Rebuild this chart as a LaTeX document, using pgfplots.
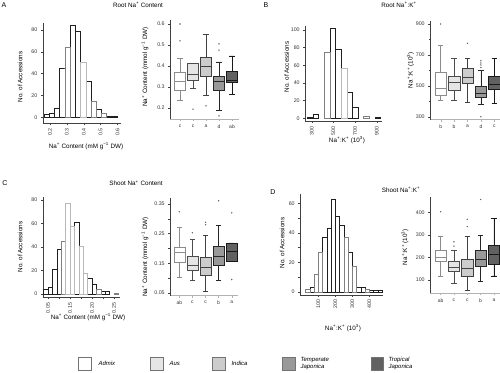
\documentclass[border=0pt]{standalone}
\usepackage{fontspec}
\setmainfont{Liberation Sans}
\usepackage{pgfplots}
\pgfplotsset{compat=1.18}
\usepgfplotslibrary{statistics}
\definecolor{eB}{gray}{0.12}
\definecolor{eG}{gray}{0.5}
\definecolor{eL}{gray}{0.72}
\definecolor{cAdm}{gray}{1}
\definecolor{cAus}{gray}{0.9}
\definecolor{cInd}{gray}{0.8}
\definecolor{cTem}{gray}{0.6}
\definecolor{cTro}{gray}{0.38}
\pgfplotsset{
 base/.style={scale only axis, anchor=south west, clip=false,
   axis x line*=bottom, axis y line*=left,
   axis line style={-, black!75, line width=0.4pt},
   tick align=outside, major tick length=1.8pt, minor tick length=1.2pt,
   tick style={black!75, line width=0.4pt},
   ticklabel style={font=\fontsize{5.3}{6}\selectfont, text=black!80},
   /pgf/number format/assume math mode=true},
 hist/.style={base, xticklabel style={rotate=90, anchor=east}, xtick pos=bottom, ytick pos=left},
 hb/.style={ybar, bar shift=0pt, bar width=#1, fill=white, line width=0.45pt},
 bxa/.style={base, xmin=0.2, xtick={1,2,3,4,5}, xtick pos=bottom, ytick pos=left,
   x axis line style={black!30, line width=1.1pt}, xtick style={black!30},
   xticklabel style={font=\fontsize{5}{6}\selectfont},
   boxplot/draw direction=y, boxplot/box extend=0.85, boxplot/whisker extend=0.4},
 pAdm/.style={draw=black!45, fill=cAdm, line width=0.45pt, mark=*, mark size=0.45pt, mark options={solid, fill=black!60, draw=black!60}},
 pAus/.style={draw=black!70, fill=cAus, line width=0.45pt, mark=*, mark size=0.45pt, mark options={solid, fill=black!60, draw=black!60}},
 pInd/.style={draw=black!75, fill=cInd, line width=0.45pt, mark=*, mark size=0.45pt, mark options={solid, fill=black!60, draw=black!60}},
 pTem/.style={draw=black!85, fill=cTem, line width=0.45pt, mark=*, mark size=0.45pt, mark options={solid, fill=black!60, draw=black!60}},
 pTro/.style={draw=black!90, fill=cTro, line width=0.45pt, mark=*, mark size=0.45pt, mark options={solid, fill=black!60, draw=black!60}},
}
\newcommand{\lab}{\fontsize{6.3}{7}\selectfont}
\newcommand{\ttl}{\fontsize{6.3}{7}\selectfont}
\begin{document}
\begin{tikzpicture}
\path[use as bounding box] (0pt,0pt) rectangle (500pt,372pt);

% ================= A histogram
\begin{axis}[hist, at={(42.7pt,249.2pt)}, width=77.8pt, height=99.4pt,
  xmin=0.157, xmax=0.618, ymin=-5, ymax=86,
  xtick={0.2,0.3,0.4,0.5,0.6}, xticklabels={0.2,0.3,0.4,0.5,0.6}, ytick={0,20,40,60,80}]
\addplot[hb=0.031, draw=eB] coordinates {(0.1795,3) (0.2105,4) (0.2415,8) (0.2725,45) (0.3345,84) (0.3655,79) (0.4275,33) (0.4895,7) (0.5515,1) (0.5825,1)};
\addplot[hb=0.031, draw=eG] coordinates {(0.3035,64) (0.4585,15) (0.5205,4)};
\addplot[hb=0.031, draw=eL] coordinates {(0.3965,50)};
\end{axis}

% ================= A boxplot
\begin{axis}[bxa, at={(170pt,252.7pt)}, width=68.5pt, height=99.5pt,
  xmin=0.23, xmax=5.5, ymin=0.146, ymax=0.62,
  ytick={0.2,0.3,0.4,0.5,0.6}, yticklabels={0.2,0.3,0.4,0.5,0.6},
  xticklabels={c,c,a,d,ab}]
\addplot[pAdm, boxplot prepared={draw position=1, lower whisker=0.235, lower quartile=0.285, median=0.325, upper quartile=0.368, upper whisker=0.437}] table[row sep=\\, y index=0] {v\\0.52\\0.60\\};
\addplot[pAus, boxplot prepared={draw position=2, lower whisker=0.294, lower quartile=0.333, median=0.362, upper quartile=0.413, upper whisker=0.413}] table[row sep=\\, y index=0] {v\\0.194\\};
\addplot[pInd, boxplot prepared={draw position=3, lower whisker=0.26, lower quartile=0.352, median=0.397, upper quartile=0.44, upper whisker=0.552}] table[row sep=\\, y index=0] {v\\0.21\\};
\addplot[pTem, boxplot prepared={draw position=4, lower whisker=0.19, lower quartile=0.283, median=0.325, upper quartile=0.352, upper whisker=0.42}] table[row sep=\\, y index=0] {v\\0.476\\0.505\\0.162\\};
\addplot[pTro, boxplot prepared={draw position=5, lower whisker=0.265, lower quartile=0.321, median=0.33, upper quartile=0.376, upper whisker=0.448}] coordinates {};
\end{axis}

% ================= B histogram
\begin{axis}[hist, at={(305pt,251pt)}, width=76.6pt, height=95.4pt,
  xmin=238, xmax=945, ymin=-3, ymax=105,
  xtick={300,500,700,900}, ytick={0,20,40,60,80,100}]
\addplot[hb=52, draw=eB] coordinates {(286,1) (338,5) (494,102) (546,78) (650,30) (702,13) (910,1)};
\addplot[hb=52, draw=eG] coordinates {(442,75) (806,2)};
\addplot[hb=52, draw=eL] coordinates {(598,57)};
\end{axis}

% ================= B boxplot
\begin{axis}[bxa, at={(430pt,252.2pt)}, width=69.9pt, height=98.9pt,
  xmin=0.2, xmax=5.42, ymin=280, ymax=920,
  ytick={300,500,700,900}, minor ytick={400,600,800},
  xticklabels={b,b,a,d,c}]
\addplot[pAdm, boxplot prepared={draw position=1, lower whisker=408, lower quartile=440, median=484, upper quartile=585, upper whisker=764}] table[row sep=\\, y index=0] {v\\900\\};
\addplot[pAus, boxplot prepared={draw position=2, lower whisker=408, lower quartile=473, median=522, upper quartile=559, upper whisker=678}] coordinates {};
\addplot[pInd, boxplot prepared={draw position=3, lower whisker=391, lower quartile=516, median=553, upper quartile=613, upper whisker=678}] table[row sep=\\, y index=0] {v\\775\\};
\addplot[pTem, boxplot prepared={draw position=4, lower whisker=382, lower quartile=425, median=451, upper quartile=499, upper whisker=598}] table[row sep=\\, y index=0] {v\\618\\635\\648\\662\\300\\};
\addplot[pTro, boxplot prepared={draw position=5, lower whisker=387, lower quartile=477, median=512, upper quartile=563, upper whisker=678}] coordinates {};
\end{axis}

% ================= C histogram
\begin{axis}[hist, at={(42.7pt,74.5pt)}, width=76.8pt, height=101pt,
  xmin=0.026, xmax=0.375, ymin=-3, ymax=83,
  xtick={0.05,0.10,0.15,0.20,0.25,0.30,0.35}, xticklabels={0.05,,0.15,,0.20,,0.25},
  ytick={0,20,40,60,80}]
\addplot[hb=0.02, draw=eB] coordinates {(0.04,4) (0.06,6) (0.08,21) (0.10,38) (0.18,61) (0.24,13) (0.26,8) (0.30,2) (0.32,2)};
\addplot[hb=0.02, draw=eG] coordinates {(0.12,45) (0.28,4) (0.36,1)};
\addplot[hb=0.02, draw=eL] coordinates {(0.14,77) (0.16,58) (0.20,41) (0.22,18)};
\end{axis}

% ================= C boxplot
\begin{axis}[bxa, at={(170pt,76.2pt)}, width=68.3pt, height=97.7pt,
  xmin=0.29, xmax=5.5, ymin=0.04, ymax=0.37,
  ytick={0.05,0.10,0.15,0.20,0.25,0.30,0.35}, yticklabels={0.05,,0.15,,0.25,,0.35},
  xticklabels={ab,c,c,b,a}]
\addplot[pAdm, boxplot prepared={draw position=1, lower whisker=0.102, lower quartile=0.155, median=0.186, upper quartile=0.204, upper whisker=0.271}] table[row sep=\\, y index=0] {v\\0.324\\};
\addplot[pAus, boxplot prepared={draw position=2, lower whisker=0.091, lower quartile=0.125, median=0.144, upper quartile=0.172, upper whisker=0.231}] table[row sep=\\, y index=0] {v\\0.253\\};
\addplot[pInd, boxplot prepared={draw position=3, lower whisker=0.054, lower quartile=0.11, median=0.138, upper quartile=0.17, upper whisker=0.245}] table[row sep=\\, y index=0] {v\\0.28\\0.288\\};
\addplot[pTem, boxplot prepared={draw position=4, lower whisker=0.093, lower quartile=0.144, median=0.174, upper quartile=0.206, upper whisker=0.279}] table[row sep=\\, y index=0] {v\\0.361\\};
\addplot[pTro, boxplot prepared={draw position=5, lower whisker=0.157, lower quartile=0.157, median=0.189, upper quartile=0.219, upper whisker=0.219}] table[row sep=\\, y index=0] {v\\0.32\\0.095\\};
\end{axis}

% ================= D histogram
\begin{axis}[hist, at={(300pt,77.3pt)}, width=82.9pt, height=100.35pt,
  xmin=-8, xmax=480, ymin=-2, ymax=66,
  xtick={100,200,300,400}, ytick={0,10,20,30,40,50,60}, yticklabels={0,,20,,40,,60}]
\addplot[hb=25, draw=eB] coordinates {(62.5,3) (137.5,37) (162.5,43) (187.5,63) (212.5,51) (237.5,45) (287.5,27) (337.5,3) (362.5,3) (412.5,1) (437.5,1) (462.5,1)};
\addplot[hb=25, draw=eG] coordinates {(37.5,2) (87.5,12) (112.5,27) (262.5,37) (312.5,17) (387.5,2)};
\end{axis}

% ================= D boxplot
\begin{axis}[bxa, at={(430pt,78.7pt)}, width=69.5pt, height=96.3pt,
  xmin=0.2, xmax=5.42, ymin=40, ymax=470,
  ytick={100,200,300,400},
  xticklabels={ab,c,c,b,a}]
\addplot[pAdm, boxplot prepared={draw position=1, lower whisker=115, lower quartile=182, median=201, upper quartile=234, upper whisker=293}] table[row sep=\\, y index=0] {v\\404\\};
\addplot[pAus, boxplot prepared={draw position=2, lower whisker=85, lower quartile=137, median=156, upper quartile=182, upper whisker=234}] table[row sep=\\, y index=0] {v\\251\\270\\};
\addplot[pInd, boxplot prepared={draw position=3, lower whisker=52, lower quartile=118, median=152, upper quartile=192, upper whisker=293}] table[row sep=\\, y index=0] {v\\338\\370\\};
\addplot[pTem, boxplot prepared={draw position=4, lower whisker=92, lower quartile=159, median=192, upper quartile=234, upper whisker=300}] table[row sep=\\, y index=0] {v\\459\\};
\addplot[pTro, boxplot prepared={draw position=5, lower whisker=118, lower quartile=171, median=216, upper quartile=256, upper whisker=375}] coordinates {};
\end{axis}

% ================= titles, letters, labels
\node[font=\fontsize{7}{8}\selectfont] at (4pt,367pt) {A};
\node[font=\fontsize{7}{8}\selectfont] at (266pt,367pt) {B};
\node[font=\fontsize{7}{8}\selectfont] at (5pt,188.5pt) {C};
\node[font=\fontsize{7}{8}\selectfont] at (273pt,180pt) {D};
\node[font=\ttl] at (138pt,367pt) {Root Na\textsuperscript{+} Content};
\node[font=\ttl] at (399pt,367pt) {Root Na\textsuperscript{+}:K\textsuperscript{+}};
\node[font=\ttl] at (136pt,188.5pt) {Shoot Na\textsuperscript{+} Content};
\node[font=\ttl] at (401pt,182pt) {Shoot Na\textsuperscript{+}:K\textsuperscript{+}};

\node[font=\lab, rotate=90] at (20pt,295pt) {No. of Accessions};
\node[font=\lab] at (86pt,226pt) {Na\textsuperscript{+} Content (mM g\textsuperscript{−1} DW)};
\node[font=\lab, rotate=90] at (145pt,305pt) {Na\textsuperscript{+} Content (mmol g\textsuperscript{−1} DW)};
\node[font=\lab, rotate=90] at (286.5pt,305pt) {No. of Accessions};
\node[font=\lab] at (347pt,232pt) {Na\textsuperscript{+}:K\textsuperscript{+} (10\textsuperscript{3})};
\node[font=\lab, rotate=90] at (410.5pt,302pt) {Na\textsuperscript{+}:K\textsuperscript{+} (10\textsuperscript{3})};
\node[font=\lab, rotate=90] at (20pt,125pt) {No. of Accessions};
\node[font=\lab] at (88pt,55pt) {Na\textsuperscript{+} Content (mM g\textsuperscript{−1} DW)};
\node[font=\lab, rotate=90] at (145pt,115pt) {Na\textsuperscript{+} Content (mmol g\textsuperscript{−1} DW)};
\node[font=\lab, rotate=90] at (282pt,129pt) {No. of Accessions};
\node[font=\lab] at (343pt,44pt) {Na\textsuperscript{+}:K\textsuperscript{+} (10\textsuperscript{3})};
\node[font=\lab, rotate=90] at (405pt,125pt) {Na\textsuperscript{+}:K\textsuperscript{+} (10\textsuperscript{3})};

% ================= legend
\begin{scope}[line width=0.5pt]
\filldraw[draw=black!55, fill=cAdm] (78pt,2pt) rectangle (91pt,15pt);
\filldraw[draw=black!55, fill=cAus] (150pt,2pt) rectangle (163pt,15pt);
\filldraw[draw=black!55, fill=cInd] (212pt,2pt) rectangle (225pt,15pt);
\filldraw[draw=black!55, fill=cTem] (282pt,2pt) rectangle (295pt,15pt);
\filldraw[draw=black!55, fill=cTro] (371pt,2pt) rectangle (383pt,15pt);
\end{scope}
\node[font=\fontsize{6}{7}\selectfont\itshape, anchor=west] at (95pt,8.5pt) {Admix};
\node[font=\fontsize{6}{7}\selectfont\itshape, anchor=west] at (166pt,8.5pt) {Aus};
\node[font=\fontsize{6}{7}\selectfont\itshape, anchor=west] at (228pt,8.5pt) {Indica};
\node[font=\fontsize{6}{7}\selectfont\itshape, anchor=west, align=left] at (297pt,8.5pt) {Temperate\\Japonica};
\node[font=\fontsize{6}{7}\selectfont\itshape, anchor=west, align=left] at (385pt,8.5pt) {Tropical\\Japonica};
\end{tikzpicture}
\end{document}
